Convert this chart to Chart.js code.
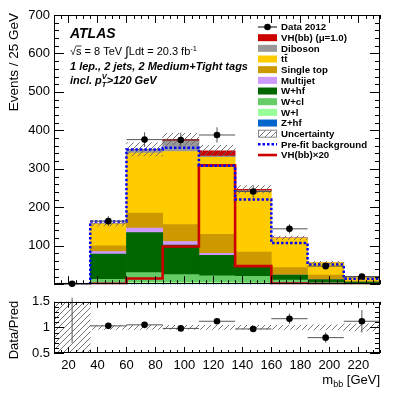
<!DOCTYPE html>
<html>
<head>
<meta charset="utf-8">
<title>mbb</title>
<script src="https://cdn.jsdelivr.net/npm/chart.js@4.4.1/dist/chart.umd.min.js"></script>
<style>
  html, body { margin: 0; padding: 0; background: #fff; }
  #wrap { position: relative; width: 411px; height: 395px; overflow: hidden; }
  canvas { position: absolute; left: 0; }
</style>
</head>
<body>
<div id="wrap">
  <canvas id="main" width="411" height="296" style="top:0;width:411px;height:296px"></canvas>
  <canvas id="ratio" width="411" height="105" style="top:290px;width:411px;height:105px"></canvas>
</div>
<script>
const FONT = '"Liberation Sans", Arial, Helvetica, sans-serif';

// m_bb bins, GeV
const binEdges = [10, 35, 60, 85, 110, 135, 160, 185, 210, 235];
const xTickLabels = [20, 40, 60, 80, 100, 120, 140, 160, 180, 200, 220];

// data
const dataObs = [1, 164, 376, 375, 388, 241, 144, 47, 20];
const dataErr = [1, 13, 19, 19, 20, 16, 12, 7, 4.5];

// post-fit backgrounds (bottom of stack first)
const zhf       = [0.2, 1.5, 2, 2, 2, 1.5, 1, 0.5, 0.3];
const wl        = [0.2, 2, 3, 3, 3, 2, 1, 0.5, 0.2];
const wcl       = [0.3, 9, 25, 20, 17, 17, 9, 3, 1];
const whf       = [0.3, 66, 104, 77, 53, 27, 13, 8, 4];
const multijet  = [0, 6, 12, 9, 5, 1, 0, 0, 0];
const singleTop = [0.2, 15, 39, 44, 50, 35, 19, 12, 2.5];
const ttbar     = [0.3, 57, 156, 190, 200, 158, 76, 32, 9];
const diboson   = [0, 1, 9, 27, 3, 2, 1, 0.5, 0.2];
const vh        = [0, 0.1, 0.8, 5, 14, 3, 0.5, 0.2, 0.1];
const bkgUnc    = [1, 0.04, 0.05, 0.04, 0.04, 0.04, 0.04, 0.05, 0.08];

// overlaid lines
const prefit = [0, 163, 350, 355, 308, 220, 107, 51, 14];
const vhx20  = [0, 1, 15, 98, 309, 47, 2, 0.5, 0];

// ratio panel
const ratio    = [2.0, 1.03, 1.05, 0.98, 1.12, 0.97, 1.17, 0.80, 1.12];
const ratioErr = [1.3, 0.05, 0.05, 0.05, 0.05, 0.06, 0.1, 0.1, 0.22];
const ratioUnc = [1.0, 0.04, 0.04, 0.04, 0.04, 0.04, 0.04, 0.05, 0.07];

const centers = binEdges.slice(0, -1).map((e, i) => (e + binEdges[i + 1]) / 2);
const xy = vals => centers.map((x, i) => ({x, y: vals[i]}));
const steps = vals => binEdges.map((x, i) => ({x, y: vals[Math.min(i, vals.length - 1)]}));

const components = [
  {label: 'Z+hf', values: zhf, color: '#0066cc'},
  {label: 'W+l', values: wl, color: '#99ff99'},
  {label: 'W+cl', values: wcl, color: '#66cc66'},
  {label: 'W+hf', values: whf, color: '#006600'},
  {label: 'Multijet', values: multijet, color: '#cc99ff'},
  {label: 'Single top', values: singleTop, color: '#cc9900'},
  {label: 'tt\u0304', values: ttbar, color: '#ffcc00'},
  {label: 'Diboson', values: diboson, color: '#999999'},
  {label: 'VH(bb) (\u03bc=1.0)', values: vh, color: '#cc0000'}
];
const total = centers.map((_, i) => components.reduce((s, c) => s + c.values[i], 0));

const legendOrder = ['Data 2012', 'VH(bb) (\u03bc=1.0)', 'Diboson', 'tt\u0304', 'Single top', 'Multijet',
  'W+hf', 'W+cl', 'W+l', 'Z+hf', 'Uncertainty', 'Pre-fit background', 'VH(bb)\u00d720'];

function hatch(canvas) {
  const tile = document.createElement('canvas');
  tile.width = 6; tile.height = 6;
  const g = tile.getContext('2d');
  g.strokeStyle = '#666'; g.lineWidth = 0.9;
  g.beginPath();
  g.moveTo(-1, 7); g.lineTo(7, -1);
  g.moveTo(-1, 1); g.lineTo(1, -1);
  g.moveTo(5, 7); g.lineTo(7, 5);
  g.stroke();
  return canvas.getContext('2d').createPattern(tile, 'repeat');
}

// ROOT-like frame with inward ticks on all four sides
const rootFrame = {
  id: 'rootFrame',
  afterDraw(chart, args, o) {
    const {ctx, chartArea: a} = chart;
    const xs = chart.scales.x, ys = chart.scales.y;
    ctx.save();
    ctx.strokeStyle = '#000'; ctx.lineWidth = 1;
    ctx.beginPath();
    for (let k = Math.ceil(xs.min / o.xMinor); k * o.xMinor <= xs.max; k++) {
      const v = k * o.xMinor;
      const px = Math.round(xs.getPixelForValue(v)) + 0.5;
      const len = v % o.xMajor === 0 ? o.xLen : o.xLen / 2;
      ctx.moveTo(px, a.bottom); ctx.lineTo(px, a.bottom - len);
      ctx.moveTo(px, a.top); ctx.lineTo(px, a.top + len);
    }
    for (let k = Math.ceil(ys.min / o.yMinor - 1e-9); k * o.yMinor <= ys.max + 1e-9; k++) {
      const v = k * o.yMinor;
      const py = Math.round(ys.getPixelForValue(v)) + 0.5;
      const major = Math.abs(v / o.yMajor - Math.round(v / o.yMajor)) < 1e-6;
      const len = major ? o.yLen : o.yLen / 2;
      ctx.moveTo(a.left, py); ctx.lineTo(a.left + len, py);
      ctx.moveTo(a.right, py); ctx.lineTo(a.right - len, py);
    }
    ctx.stroke();
    ctx.strokeRect(Math.round(a.left) + 0.5, Math.round(a.top) + 0.5,
      Math.round(a.right - a.left) - 1, Math.round(a.bottom - a.top) - 1);
    ctx.restore();
  }
};

// data error bars, drawn just before the markers
const errorBars = {
  id: 'errorBars',
  beforeDatasetDraw(chart, args) {
    const ds = chart.data.datasets[args.index];
    if (!ds.errY) return;
    const {ctx, chartArea: a} = chart;
    const xs = chart.scales.x, ys = chart.scales.y;
    ctx.save();
    ctx.beginPath(); ctx.rect(a.left, a.top - 4, a.right - a.left, a.bottom - a.top + 8); ctx.clip();
    ctx.lineWidth = 1; ctx.strokeStyle = '#555';
    ds.data.forEach((p, i) => {
      const px = xs.getPixelForValue(p.x), py = ys.getPixelForValue(p.y);
      ctx.beginPath();
      ctx.moveTo(xs.getPixelForValue(binEdges[i]), py);
      ctx.lineTo(xs.getPixelForValue(binEdges[i + 1]), py);
      ctx.moveTo(px, ys.getPixelForValue(p.y - ds.errY[i]));
      ctx.lineTo(px, ys.getPixelForValue(p.y + ds.errY[i]));
      ctx.stroke();
    });
    ctx.restore();
  }
};

function drawRuns(ctx, x, y, runs) {
  for (const r of runs) {
    ctx.font = r.font;
    ctx.fillText(r.t, x, y + (r.dy || 0));
    const w = ctx.measureText(r.t).width;
    if (r.over) {
      ctx.beginPath(); ctx.lineWidth = 0.8;
      ctx.moveTo(x, y - r.over); ctx.lineTo(x + w, y - r.over); ctx.stroke();
    }
    if (!r.keep) x += w;
  }
  return x;
}

// label text; a combining macron is drawn as an overline on the previous letter
function legendLabel(ctx, name, x, y) {
  const k = name.indexOf('\u0304');
  if (k < 0) { ctx.fillText(name, x, y); return; }
  const plain = name.replace('\u0304', '');
  ctx.fillText(plain, x, y);
  const x0 = x + ctx.measureText(plain.slice(0, k - 1)).width;
  const x1 = x + ctx.measureText(plain.slice(0, k)).width;
  ctx.fillRect(x0 + 0.3, y - 5.6, x1 - x0 - 0.3, 1);
}

const mainText = {
  id: 'mainText',
  afterDraw(chart) {
    const ctx = chart.ctx;
    ctx.save();
    ctx.fillStyle = '#000'; ctx.strokeStyle = '#000';
    ctx.textBaseline = 'alphabetic'; ctx.textAlign = 'left';
    const bi = s => `italic bold ${s}px ${FONT}`, rg = s => `${s}px ${FONT}`;
    drawRuns(ctx, 70, 38, [{t: 'ATLAS', font: bi(14)}]);
    drawRuns(ctx, 70, 55, [
      {t: '\u221a', font: rg(11)}, {t: 's', font: rg(11), over: 9},
      {t: ' = 8 TeV ', font: rg(11)}, {t: '\u222b', font: rg(13), dy: 1},
      {t: 'Ldt = 20.3 fb', font: rg(11)}, {t: '-1', font: rg(7.5), dy: -4.5}
    ]);
    drawRuns(ctx, 70, 69.5, [{t: '1 lep., 2 jets, 2 Medium+Tight tags', font: bi(11)}]);
    drawRuns(ctx, 70, 84, [
      {t: 'incl. p', font: bi(11)}, {t: 'T', font: bi(7.5), dy: 3, keep: true},
      {t: 'V', font: bi(7.5), dy: -5}, {t: '>120 GeV', font: bi(11)}
    ]);
    // y title
    ctx.save();
    ctx.translate(14, 13); ctx.rotate(-Math.PI / 2);
    ctx.font = rg(13.5); ctx.textAlign = 'right'; ctx.textBaseline = 'middle';
    ctx.fillText('Events / 25 GeV', 0, 0);
    ctx.restore();
    // legend
    const x0 = 258, x1 = 277, tx = 281, y0 = 27, dy = 10.67;
    ctx.font = `bold 9.7px ${FONT}`; ctx.textBaseline = 'middle';
    legendOrder.forEach((name, i) => {
      const ds = chart.data.datasets.find(d => d.label === name);
      const y = y0 + i * dy;
      if (ds.type === 'scatter') {
        ctx.strokeStyle = '#000'; ctx.lineWidth = 1;
        ctx.beginPath(); ctx.moveTo(x0, y); ctx.lineTo(x1, y); ctx.stroke();
        ctx.fillStyle = '#000';
        ctx.beginPath(); ctx.arc((x0 + x1) / 2, y, 3.3, 0, 2 * Math.PI); ctx.fill();
      } else if (ds.type === 'line') {
        ctx.strokeStyle = ds.borderColor; ctx.lineWidth = ds.borderWidth;
        ctx.setLineDash(ds.borderDash || []);
        ctx.beginPath(); ctx.moveTo(x0, y); ctx.lineTo(x1, y); ctx.stroke();
        ctx.setLineDash([]);
      } else {
        ctx.fillStyle = ds.backgroundColor;
        ctx.fillRect(x0, y - 3.5, x1 - x0, 7);
        if (name === 'Uncertainty') {
          ctx.strokeStyle = '#888'; ctx.lineWidth = 1;
          ctx.strokeRect(x0 + 0.5, y - 3.5, x1 - x0 - 1, 7);
        }
      }
      ctx.fillStyle = '#000';
      legendLabel(ctx, name, tx, y + 0.5);
    });
    ctx.restore();
  }
};

const ratioText = {
  id: 'ratioText',
  afterDraw(chart) {
    const ctx = chart.ctx;
    ctx.save();
    ctx.fillStyle = '#000';
    ctx.save();
    ctx.translate(14, 40); ctx.rotate(-Math.PI / 2);
    ctx.font = `13px ${FONT}`; ctx.textAlign = 'center'; ctx.textBaseline = 'middle';
    ctx.fillText('Data/Pred', 0, 0);
    ctx.restore();
    const runs = [
      {t: 'm', font: `13px ${FONT}`}, {t: 'bb', font: `9px ${FONT}`, dy: 3},
      {t: ' [GeV]', font: `13px ${FONT}`}
    ];
    let w = 0;
    runs.forEach(r => { ctx.font = r.font; w += ctx.measureText(r.t).width; });
    drawRuns(ctx, chart.chartArea.right - w, 93.5, runs);
    ctx.restore();
  }
};

const tickFont = {family: FONT, size: 13};
const mainCanvas = document.getElementById('main');
const ratioCanvas = document.getElementById('ratio');

new Chart(mainCanvas, {
  type: 'bar',
  data: {
    datasets: [
      {type: 'scatter', label: 'Data 2012', data: xy(dataObs), errY: dataErr, stack: 'data',
       pointRadius: 3.3, backgroundColor: '#000', borderColor: '#000', borderWidth: 0, clip: false, order: 0},
      {type: 'line', label: 'Pre-fit background', data: steps(prefit), stack: 'prefit', stepped: true,
       borderColor: '#0000ff', borderWidth: 2.5, borderDash: [2.5, 2], pointRadius: 0, fill: false, order: 1},
      {type: 'line', label: 'VH(bb)\u00d720', data: steps(vhx20), stack: 'sig', stepped: true,
       borderColor: '#cc0000', borderWidth: 2.6, pointRadius: 0, fill: false, order: 2},
      {type: 'bar', label: 'Uncertainty', stack: 'unc',
       data: centers.map((x, i) => ({x, y: [total[i] * (1 - bkgUnc[i]), total[i] * (1 + bkgUnc[i])]})),
       backgroundColor: hatch(mainCanvas), borderWidth: 0, grouped: false,
       barPercentage: 1, categoryPercentage: 1, order: 3},
      ...components.map(c => ({
        type: 'bar', label: c.label, data: xy(c.values), stack: 'bkg',
        backgroundColor: c.color, borderWidth: 0, grouped: false,
        barPercentage: 1, categoryPercentage: 1, order: 4
      }))
    ]
  },
  options: {
    responsive: false, animation: false, events: [],
    layout: {padding: {top: 15, right: 31, bottom: 3, left: 0}},
    scales: {
      x: {type: 'linear', min: 10, max: 235, display: false, offset: false,
          afterBuildTicks: s => { s.ticks = binEdges.map(value => ({value})); }},
      y: {type: 'linear', stacked: true, min: 0, max: 700,
          afterFit: s => { s.width = 54; },
          grid: {display: false, drawTicks: false}, border: {display: false},
          ticks: {stepSize: 100, padding: 4, color: '#000', font: tickFont,
                  callback: v => v === 0 ? '' : String(v)}}
    },
    plugins: {
      legend: {display: false}, tooltip: {enabled: false},
      rootFrame: {xMinor: 5, xMajor: 20, xLen: 8, yMinor: 20, yMajor: 100, yLen: 10}
    }
  },
  plugins: [errorBars, rootFrame, mainText]
});

new Chart(ratioCanvas, {
  type: 'bar',
  data: {
    datasets: [
      {type: 'scatter', label: 'Data/Pred', data: xy(ratio), errY: ratioErr,
       pointRadius: 3.3, backgroundColor: '#000', borderColor: '#000', borderWidth: 0, order: 0},
      {type: 'bar', label: 'Uncertainty',
       data: centers.map((x, i) => ({x, y: [1 - ratioUnc[i], 1 + ratioUnc[i]]})),
       backgroundColor: hatch(ratioCanvas), borderWidth: 0, grouped: false,
       barPercentage: 1, categoryPercentage: 1, order: 1}
    ]
  },
  options: {
    responsive: false, animation: false, events: [],
    layout: {padding: {top: 11, right: 31, bottom: 0, left: 0}},
    scales: {
      x: {type: 'linear', min: 10, max: 235, display: false, offset: false,
          afterBuildTicks: s => { s.ticks = binEdges.map(value => ({value})); }},
      xt: {type: 'linear', axis: 'x', position: 'bottom', min: 10, max: 235, offset: false,
           afterBuildTicks: s => { s.ticks = xTickLabels.map(value => ({value})); },
           afterFit: s => { s.height = 42; },
           grid: {display: false, drawTicks: false}, border: {display: false},
           ticks: {padding: 5, maxRotation: 0, autoSkip: false, color: '#000', font: tickFont}},
      y: {type: 'linear', min: 0.5, max: 1.5,
          afterFit: s => { s.width = 54; },
          grid: {display: false, drawTicks: false}, border: {display: false},
          ticks: {stepSize: 0.5, padding: 4, color: '#000', font: tickFont, callback: v => String(v)}}
    },
    plugins: {
      legend: {display: false}, tooltip: {enabled: false},
      rootFrame: {xMinor: 5, xMajor: 20, xLen: 6, yMinor: 0.1, yMajor: 0.5, yLen: 10}
    }
  },
  plugins: [errorBars, rootFrame, ratioText]
});
</script>
</body>
</html>
